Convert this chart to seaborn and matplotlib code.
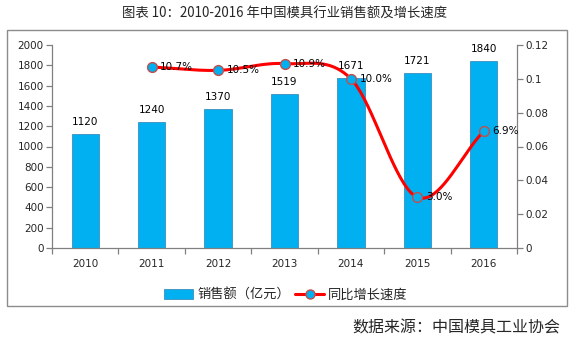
import numpy as np
import pandas as pd
import matplotlib
matplotlib.use("Agg")
import matplotlib.pyplot as plt
import seaborn as sns
from matplotlib.lines import Line2D
from matplotlib.patches import Patch, Rectangle

years = ["2010", "2011", "2012", "2013", "2014", "2015", "2016"]
sales = [1120, 1240, 1370, 1519, 1671, 1721, 1840]
growth_years = ["2011", "2012", "2013", "2014", "2015", "2016"]
growth = [0.107, 0.105, 0.109, 0.100, 0.030, 0.069]
growth_labels = ["10.7%", "10.5%", "10.9%", "10.0%", "3.0%", "6.9%"]

sns.set_theme(style="white")
plt.rcParams['font.family'] = ['DejaVu Sans', 'Noto Sans CJK SC']
cjk = ['Noto Sans CJK SC', 'DejaVu Sans']

fig = plt.figure(figsize=(5.72, 3.46), dpi=100)
W, H = 572, 346
ax = fig.add_axes([52 / W, 1 - 248 / H, (517 - 52) / W, (248 - 45) / H])

df = pd.DataFrame({"year": years, "sales": sales})
sns.barplot(data=df, x="year", y="sales", ax=ax, color="#00B0F0",
            width=0.41, edgecolor="#3A8FC0", linewidth=0.6, saturation=1)
ax.set_xlim(-0.5, len(years) - 0.5)
ax.set_ylim(0, 2000)
ax.set_yticks(np.arange(0, 2001, 200))
ax.set_xlabel("")
ax.set_ylabel("")
for i, v in enumerate(sales):
    ax.text(i, v + 70, str(v), ha="center", va="bottom", fontsize=7.5, color="black")

ax2 = ax.twinx()
ax2.set_ylim(0, 0.12)
ax2.set_yticks([0, 0.02, 0.04, 0.06, 0.08, 0.1, 0.12])
ax2.set_yticklabels(["0", "0.02", "0.04", "0.06", "0.08", "0.1", "0.12"])

# smooth curve (Catmull-Rom through the data points)
xs = np.array([years.index(y) for y in growth_years], dtype=float)
ys = np.array(growth)
px = np.concatenate([[2 * xs[0] - xs[1]], xs, [2 * xs[-1] - xs[-2]]])
py = np.concatenate([[2 * ys[0] - ys[1]], ys, [2 * ys[-1] - ys[-2]]])
cx, cy = [], []
t = np.linspace(0, 1, 40)
for i in range(1, len(px) - 2):
    p0, p1, p2, p3 = [np.array([px[j], py[j]]) for j in (i - 1, i, i + 1, i + 2)]
    b1 = p1 + (p2 - p0) / 6
    b2 = p2 - (p3 - p1) / 6
    pts = ((1 - t) ** 3)[:, None] * p1 + (3 * (1 - t) ** 2 * t)[:, None] * b1 + \
          (3 * (1 - t) * t ** 2)[:, None] * b2 + (t ** 3)[:, None] * p2
    cx.extend(pts[:, 0]); cy.extend(pts[:, 1])
ax2.plot(cx, cy, color="#FF0000", lw=2.2, zorder=3)
sns.scatterplot(x=xs, y=ys, ax=ax2, s=50, color="#00B0F0", edgecolor="#C0504D",
                linewidth=1.0, zorder=4, legend=False)
for x, y, lab in zip(xs, ys, growth_labels):
    ax2.text(x + 0.13, y, lab, ha="left", va="center", fontsize=7.5, color="black", zorder=5)
ax2.set_xlim(-0.5, len(years) - 0.5)

axis_col = "#808080"
for a in (ax, ax2):
    for s in a.spines.values():
        s.set_color(axis_col)
        s.set_linewidth(0.9)
    a.spines["top"].set_visible(False)
ax.spines["right"].set_visible(False)
ax2.spines["left"].set_visible(False)
ax2.spines["bottom"].set_visible(False)

ax.tick_params(axis="y", which="major", length=4, width=0.9, color=axis_col,
               labelsize=7.5, pad=2, direction="out", left=True)
ax2.tick_params(axis="y", which="major", length=4, width=0.9, color=axis_col,
                labelsize=7.5, pad=2, direction="out", right=True)
ax.set_xticks(range(len(years)))
ax.set_xticklabels(years)
ax.set_xticks(np.arange(-0.5, len(years)), minor=True)
ax.tick_params(axis="x", which="major", length=0, labelsize=7.5, pad=8)
ax.tick_params(axis="x", which="minor", length=4, width=0.9, color=axis_col,
               direction="out", bottom=True)
ax.grid(False); ax2.grid(False)

# outer frame
fig.patches.append(Rectangle((7 / W, 1 - 306 / H), (567 - 7) / W, (306 - 30) / H,
                             transform=fig.transFigure, fill=False,
                             edgecolor="#8C8C8C", linewidth=1.0))

fig.text(285 / W, 1 - 14 / H, "图表 10：2010-2016 年中国模具行业销售额及增长速度",
         ha="center", va="center", fontsize=9.6, family=cjk)

handles = [Patch(facecolor="#00B0F0", edgecolor="#3A8FC0", linewidth=0.6),
           Line2D([0], [0], color="#FF0000", lw=2.2, marker="o", markersize=6.5,
                  markerfacecolor="#00B0F0", markeredgecolor="#C0504D")]
fig.legend(handles, ["销售额（亿元）", "同比增长速度"], loc="center",
           bbox_to_anchor=(0.5, 1 - 295 / H), ncol=2, frameon=False,
           prop={"family": cjk, "size": 9.5}, handlelength=2.2, handleheight=0.7,
           columnspacing=0.4, handletextpad=0.3)

fig.text(560 / W, 1 - 328 / H, "数据来源：中国模具工业协会", ha="right", va="center",
         fontsize=11.5, family=cjk)

fig.savefig("out.png", dpi=100)
